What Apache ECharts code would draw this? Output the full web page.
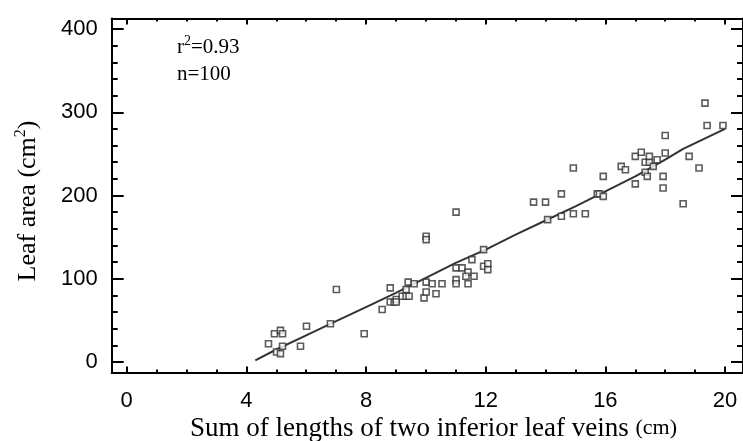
<!DOCTYPE html>
<html>
<head>
<meta charset="utf-8">
<script src="https://cdn.jsdelivr.net/npm/echarts@6/dist/echarts.min.js"></script>
<style>
html,body{margin:0;padding:0;background:#fff;}
#c{width:743px;height:441px;}
</style>
</head>
<body>
<div id="c"></div>
<script>
// ---- data ----
var veinX = [4.74,4.94,5.14,5.21,5.21,5.01,5.14,5.81,6.01,6.81,7.01,7.94,8.54,8.81,8.81,8.94,9.01,9.01,9.21,9.34,9.41,9.34,9.44,9.61,9.94,10.01,10.01,10.01,10.01,10.21,10.34,10.54,11.01,11.01,11.01,11.01,11.21,11.41,11.34,11.41,11.54,11.61,
  11.93,11.93,12.07,12.07,13.6,14.0,14.07,14.53,14.53,14.93,14.93,15.33,15.73,15.8,15.93,15.93,16.53,16.67,17.0,17.2,17.0,17.33,17.47,17.47,17.33,17.4,17.6,17.73,17.93,17.93,18.0,18.0,18.6,18.8,19.13,19.33,19.4,19.93];
var leafArea = [22,34,38,34,19,12,10,19,43,46,87,34,63,89,72,72,75,72,79,87,96,79,79,94,77,96,84,151,147,94,82,94,180,113,99,94,113,108,103,94,123,103,
  135,115,118,111,192,192,171,202,175,233,178,178,202,202,199,223,235,231,247,252,214,240,240,247,228,223,235,243,223,209,251,272,190,247,233,311,284,284];
var fitX = [4.3,5,6,7,8,9,10,11,12,13,14,15,16,17,18,18.6,20];
var fitY = [2,15,32,49,66,83,101,119,135,153,170,187,205,223,243,256,280];
var xMajorTicks = [0,4,8,12,16,20];
var xMinorTicks = [1,2,3,5,6,7,9,10,11,13,14,15,17,18,19];
var yMajorTicks = [0,100,200,300,400];
var yMinorTicks = [20,40,60,80,120,140,160,180,220,240,260,280,320,340,360,380];
var xTitle = 'Sum of lengths of two inferior leaf veins ';
var xUnit = '(cm)';
var yTitle = 'Leaf area (cm';
var r2Text = '=0.93';
var nText = 'n=100';

var pts = veinX.map(function(v,i){return [v, leafArea[i]];});
var fit = fitX.map(function(v,i){return [v, fitY[i]];});

var XMIN=-0.5, XMAX=20.6, YMIN=-12.5, YMAX=412.5;
var lineStyle = {color:'#000', width:2};
function xAx(pos, vals, len, showLine, showLabel){
  return {type:'value', min:XMIN, max:XMAX, position:pos, splitLine:{show:false},
    axisLine:{show:showLine, onZero:false, lineStyle:lineStyle},
    axisTick:{show:true, inside:true, length:len, customValues:vals, lineStyle:{color:'#000', width:2}},
    axisLabel:{show:showLabel, customValues:vals, fontFamily:'Liberation Sans, Arial, sans-serif', fontSize:22, color:'#000', margin:18}};
}
function yAx(pos, vals, len, showLine, showLabel){
  return {type:'value', min:YMIN, max:YMAX, position:pos, splitLine:{show:false},
    axisLine:{show:showLine, onZero:false, lineStyle:lineStyle},
    axisTick:{show:true, inside:true, length:len, customValues:vals, lineStyle:{color:'#000', width:2}},
    axisLabel:{show:showLabel, customValues:vals, fontFamily:'Liberation Sans, Arial, sans-serif', fontSize:22, color:'#000', margin:14}};
}

var chart = echarts.init(document.getElementById('c'), null, {renderer:'canvas'});
chart.setOption({
  animation:false,
  backgroundColor:'#fff',
  grid:{left:111.7, right:-1.7, top:18.6, bottom:68.6, containLabel:false},
  xAxis:[
    xAx('bottom', xMajorTicks, 6, true, true),
    xAx('bottom', xMinorTicks, 3, false, false),
    xAx('top', xMajorTicks, 6, true, false),
    xAx('top', xMinorTicks, 3, false, false)
  ],
  yAxis:[
    yAx('left', yMajorTicks, 12, true, true),
    yAx('left', yMinorTicks, 6, false, false),
    yAx('right', yMajorTicks, 12, true, false),
    yAx('right', yMinorTicks, 6, false, false)
  ],
  series:[
    {type:'line', data:fit, xAxisIndex:0, yAxisIndex:0, showSymbol:false, symbol:'none',
      lineStyle:{color:'#333', width:2}, z:2},
    {type:'scatter', data:pts, xAxisIndex:0, yAxisIndex:0, symbol:'rect', symbolSize:6,
      itemStyle:{color:'#fff', borderColor:'#333', borderWidth:1.6}, z:3}
  ],
  graphic:[
    {type:'text', x:433.5, y:442, style:{
      text:'{m|'+xTitle+'}{u|'+xUnit+'}', align:'center', verticalAlign:'bottom',
      rich:{m:{fontFamily:'Liberation Serif, Times New Roman, serif', fontSize:27, color:'#000'},
            u:{fontFamily:'Liberation Serif, Times New Roman, serif', fontSize:22, color:'#000'}}}},
    {type:'text', x:28, y:201, rotation:Math.PI/2, style:{
      text:'{m|'+yTitle+'}{s|2}{m|)}', align:'center', verticalAlign:'middle',
      rich:{m:{fontFamily:'Liberation Serif, Times New Roman, serif', fontSize:26, color:'#000', lineHeight:30},
            s:{fontFamily:'Liberation Serif, Times New Roman, serif', fontSize:16, color:'#000', verticalAlign:'top', lineHeight:30}}}},
    {type:'text', x:177, y:60, style:{
      text:'{m|r}{s|2}{m|'+r2Text+'}', align:'left', verticalAlign:'bottom',
      rich:{m:{fontFamily:'Liberation Serif, Times New Roman, serif', fontSize:21, color:'#000', lineHeight:26},
            s:{fontFamily:'Liberation Serif, Times New Roman, serif', fontSize:14, color:'#000', verticalAlign:'top', lineHeight:26}}}},
    {type:'text', x:177, y:85, style:{
      text:nText, align:'left', verticalAlign:'bottom',
      fontFamily:'Liberation Serif, Times New Roman, serif', fontSize:21, fill:'#000'}}
  ]
});
</script>
</body>
</html>
